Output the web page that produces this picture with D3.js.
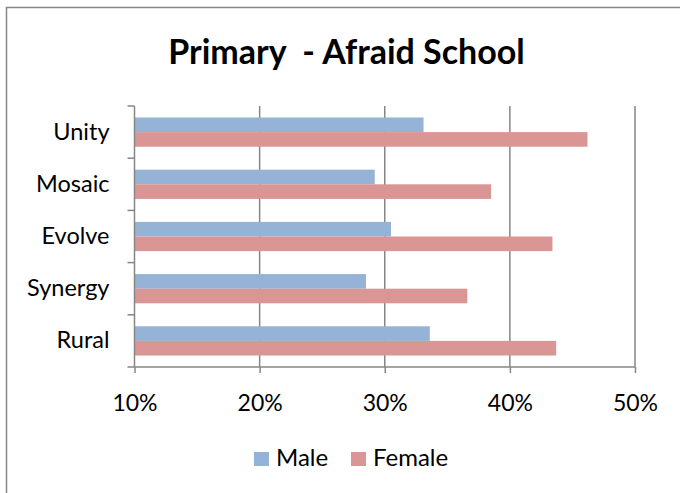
<!DOCTYPE html>
<html>
<head>
<meta charset="utf-8">
<script src="https://cdn.jsdelivr.net/npm/d3@7"></script>
<style>
  html, body { margin: 0; padding: 0; background: #fff; }
  svg { display: block; }
  text { font-family: Lato, "Open Sans", sans-serif; fill: #000; }
</style>
</head>
<body>
<svg id="chart" width="680" height="493"></svg>
<script>
const categories = ["Unity", "Mosaic", "Evolve", "Synergy", "Rural"];
const seriesNames = ["Male", "Female"];
const maleValues = [0.331, 0.292, 0.305, 0.285, 0.336];
const femaleValues = [0.462, 0.385, 0.434, 0.366, 0.437];
const tickValues = [0.1, 0.2, 0.3, 0.4, 0.5];
const titleText = "Primary  - Afraid School";
const colors = { Male: "#95B3D7", Female: "#D99694" };

const rows = categories.map((c, i) => ({ cat: c, Male: maleValues[i], Female: femaleValues[i] }));

const svg = d3.select("#chart");

// outer border
svg.append("rect")
  .attr("x", 6.5).attr("y", 7.5)
  .attr("width", 700).attr("height", 500)
  .attr("fill", "none").attr("stroke", "#868686").attr("stroke-width", 1.5);

const plot = { left: 134.5, right: 635, top: 106, bottom: 367 };

const x = d3.scaleLinear().domain([0.1, 0.5]).range([plot.left, plot.right]);
const y = d3.scaleBand().domain(categories).range([plot.top, plot.bottom])
  .paddingInner(0.44).paddingOuter(0.22);
const ySub = d3.scaleBand().domain(seriesNames).range([0, y.bandwidth()]);

// title
svg.append("text")
  .attr("x", 346.5).attr("y", 64)
  .attr("text-anchor", "middle")
  .attr("font-weight", "bold")
  .attr("font-size", 34)
  .style("white-space", "pre")
  .text(titleText);

// gridlines
svg.append("g")
  .selectAll("line")
  .data(tickValues.slice(1))
  .join("line")
  .attr("x1", d => x(d)).attr("x2", d => x(d))
  .attr("y1", plot.top).attr("y2", plot.bottom)
  .attr("stroke", "#868686").attr("stroke-width", 1.5);

// bars
const groups = svg.append("g")
  .selectAll("g")
  .data(rows)
  .join("g")
  .attr("transform", d => `translate(0,${y(d.cat)})`);

groups.selectAll("rect")
  .data(d => seriesNames.map(s => ({ s, v: d[s] })))
  .join("rect")
  .attr("x", x(0.1))
  .attr("y", d => ySub(d.s))
  .attr("width", d => x(d.v) - x(0.1))
  .attr("height", ySub.bandwidth())
  .attr("fill", d => colors[d.s]);

// x axis
const xAxis = svg.append("g")
  .attr("transform", `translate(0,${plot.bottom})`)
  .call(d3.axisBottom(x).tickValues(tickValues).tickFormat(d3.format(".0%")).tickSize(6).tickPadding(22));
xAxis.select(".domain").remove();
xAxis.selectAll(".tick line").attr("stroke", "#868686").attr("stroke-width", 1.5);
xAxis.selectAll(".tick text").attr("font-size", 23).attr("font-family", "Lato, sans-serif").attr("fill", "#000");
xAxis.append("line")
  .attr("x1", plot.left - 7).attr("x2", plot.right)
  .attr("y1", 0).attr("y2", 0)
  .attr("stroke", "#868686").attr("stroke-width", 1.5);

// y axis
const yAxis = svg.append("g")
  .attr("transform", `translate(${plot.left},0)`)
  .call(d3.axisLeft(y).tickSize(0).tickPadding(25));
yAxis.select(".domain").remove();
yAxis.selectAll(".tick text").attr("font-size", 23.5).attr("font-family", "Lato, sans-serif").attr("fill", "#000");
yAxis.append("line")
  .attr("x1", 0).attr("x2", 0)
  .attr("y1", plot.top).attr("y2", plot.bottom)
  .attr("stroke", "#868686").attr("stroke-width", 1.5);
const boundaries = categories.map(c => y(c) - y.step() * y.paddingInner() / 2);
yAxis.selectAll("line.bnd")
  .data(boundaries)
  .join("line")
  .attr("class", "bnd")
  .attr("x1", -7).attr("x2", 0)
  .attr("y1", d => d).attr("y2", d => d)
  .attr("stroke", "#868686").attr("stroke-width", 1.5);

// legend
const legendItems = [
  { name: "Male", sx: 254, tx: 276 },
  { name: "Female", sx: 351, tx: 373 }
];
const legend = svg.append("g");
legend.selectAll("rect")
  .data(legendItems)
  .join("rect")
  .attr("x", d => d.sx).attr("y", 452)
  .attr("width", 15).attr("height", 14)
  .attr("fill", d => colors[d.name]);
legend.selectAll("text")
  .data(legendItems)
  .join("text")
  .attr("x", d => d.tx).attr("y", 466)
  .attr("font-size", 24)
  .text(d => d.name);
</script>
</body>
</html>
